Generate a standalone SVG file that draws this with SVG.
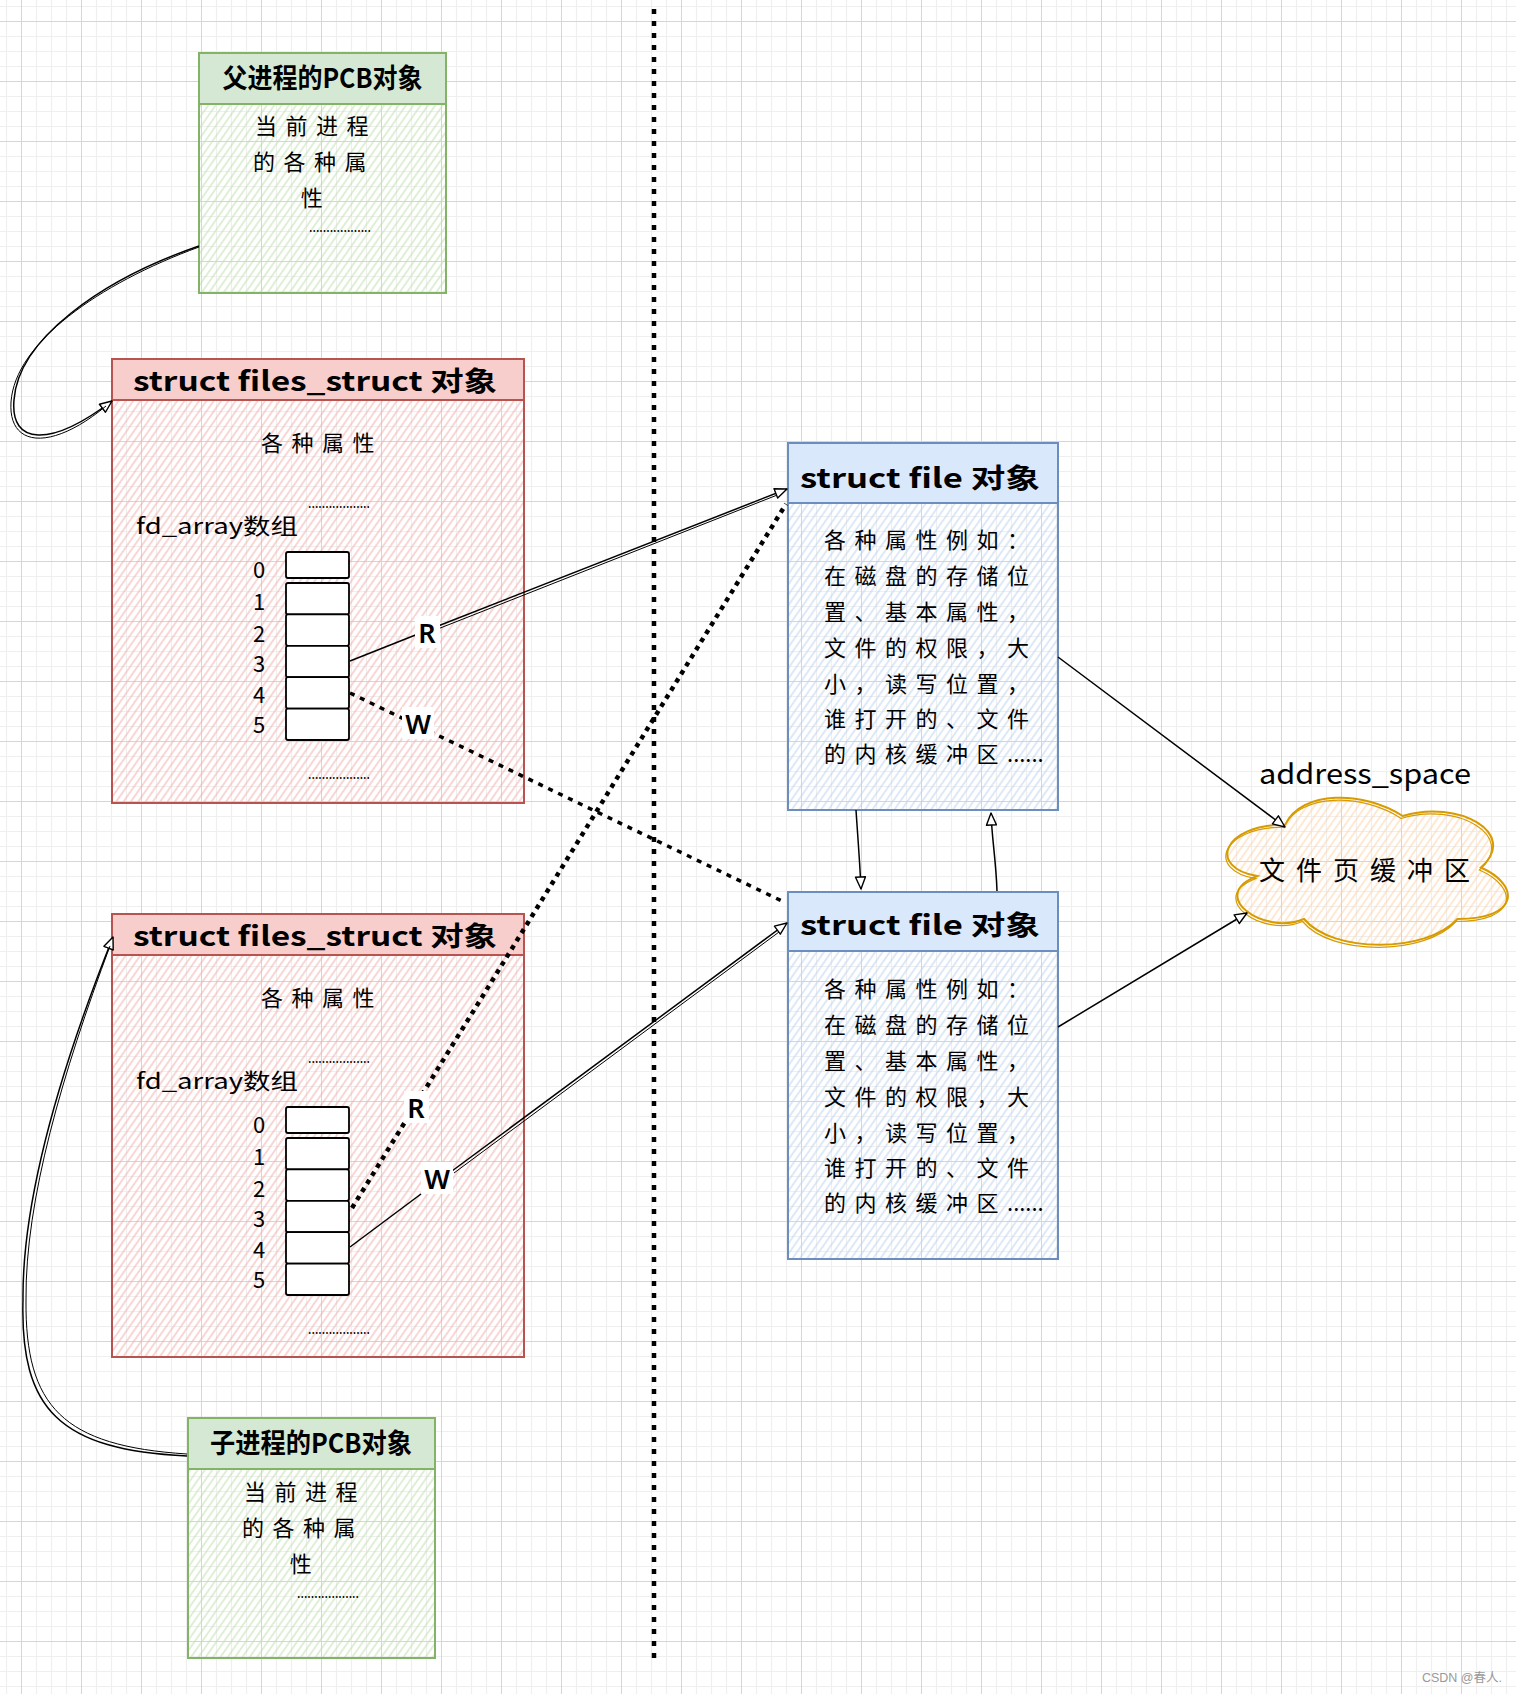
<svg xmlns="http://www.w3.org/2000/svg" width="1516" height="1694" viewBox="0 0 1516 1694">
<defs>
<pattern id="grid" x="21" y="21" width="60" height="60" patternUnits="userSpaceOnUse">
<path d="M15.5,0V60M30.5,0V60M45.5,0V60M0,15.5H60M0,30.5H60M0,45.5H60" stroke="#efefef" stroke-width="1.2" fill="none"/>
<path d="M0.5,0V60M0,0.5H60" stroke="#d6d6d6" stroke-width="1" fill="none"/>
</pattern>
<pattern id="hr" width="6" height="10" patternUnits="userSpaceOnUse" patternTransform="rotate(35)">
<line x1="3" y1="0" x2="3" y2="10" stroke="#f3aeab" stroke-width="1"/>
</pattern>
<pattern id="hg" width="6" height="10" patternUnits="userSpaceOnUse" patternTransform="rotate(35)">
<line x1="3" y1="0" x2="3" y2="10" stroke="#bfe0ad" stroke-width="1"/>
</pattern>
<pattern id="hb" width="6" height="10" patternUnits="userSpaceOnUse" patternTransform="rotate(35)">
<line x1="3" y1="0" x2="3" y2="10" stroke="#bcd2f1" stroke-width="1"/>
</pattern>
<pattern id="ho" width="6" height="10" patternUnits="userSpaceOnUse" patternTransform="rotate(35)">
<line x1="3" y1="0" x2="3" y2="10" stroke="#ffd2a6" stroke-width="1"/>
</pattern>
<marker id="arr" viewBox="0 0 14 12" refX="13" refY="6" markerWidth="14" markerHeight="12" orient="auto" markerUnits="userSpaceOnUse">
<path d="M1,1 L13,6 L1,11 Z" fill="#fff" stroke="#000" stroke-width="1.4" stroke-linejoin="round"/>
</marker>
<style>
.t{font-family:"Noto Sans CJK SC","Noto Sans",sans-serif;fill:#000}
.ttl{font-size:27px;font-weight:700}
.body{font-size:22px;letter-spacing:8.5px}
.num{font-size:22px}
.dots{font-size:14px}
.lbl{font-family:"Noto Sans","Liberation Sans",sans-serif;font-size:27px;font-weight:600}
.ln{fill:none;stroke:#000;stroke-width:1.5}
.ln2{fill:none;stroke:#000;stroke-width:1}
.dot1{fill:none;stroke:#000;stroke-width:3.5;stroke-dasharray:5 6}
.dot2{fill:none;stroke:#000;stroke-width:4.5;stroke-dasharray:4.5 5}
.cell{fill:#fff;stroke:#000;stroke-width:1.8}
.red{stroke:#b85450;stroke-width:2}
.grn{stroke:#82b366;stroke-width:2}
.blu{stroke:#6c8ebf;stroke-width:2}
.bg{fill:#fff}
</style>
</defs>
<rect x="0" y="0" width="1516" height="1694" fill="#fff"/>
<rect x="0" y="0" width="1516" height="1694" fill="url(#grid)"/>

<!-- divider -->
<g id="divider">
<line x1="654" y1="9" x2="654" y2="1659" stroke="#000" stroke-width="4.5" stroke-dasharray="5 7"/>
</g>

<!-- parent PCB -->
<g id="parent-pcb">
<rect x="199" y="53" width="247" height="240" fill="url(#hg)" class="grn"/>
<rect x="199" y="53" width="247" height="51" fill="#d5e8d4" class="grn"/>
<text class="t ttl" x="322.5" y="76" text-anchor="middle" dominant-baseline="central" font-size="25" textLength="200" lengthAdjust="spacingAndGlyphs">父进程的PCB对象</text>
<text class="t body" x="316" y="124" text-anchor="middle" dominant-baseline="central">当前进程</text>
<text class="t body" x="314" y="160" text-anchor="middle" dominant-baseline="central">的各种属</text>
<text class="t body" x="316" y="196" text-anchor="middle" dominant-baseline="central">性</text>
<text class="t dots" x="340" y="226" text-anchor="middle" dominant-baseline="central" textLength="62" lengthAdjust="spacingAndGlyphs">..................</text>
</g>

<!-- files_struct top -->
<g id="files-struct-1">
<rect x="112" y="359" width="412" height="444" fill="url(#hr)" class="red"/>
<rect x="112" y="359" width="412" height="41" fill="#f8cecc" class="red"/>
<text class="t ttl" x="315" y="379" text-anchor="middle" dominant-baseline="central" textLength="364" lengthAdjust="spacingAndGlyphs">struct files_struct 对象</text>
<text class="t body" x="322" y="441" text-anchor="middle" dominant-baseline="central">各种属性</text>
<text class="t dots" x="339" y="502" text-anchor="middle" dominant-baseline="central" textLength="62" lengthAdjust="spacingAndGlyphs">..................</text>
<text class="t" x="136" y="524" font-size="22" dominant-baseline="central" textLength="162" lengthAdjust="spacingAndGlyphs">fd_array数组</text>
<rect class="cell" x="286" y="552" width="63" height="26" rx="2"/>
<rect class="cell" x="286" y="583" width="63" height="31.4" rx="2"/>
<rect class="cell" x="286" y="614.4" width="63" height="31.4" rx="2"/>
<rect class="cell" x="286" y="645.8" width="63" height="31.4" rx="2"/>
<rect class="cell" x="286" y="677.2" width="63" height="31.4" rx="2"/>
<rect class="cell" x="286" y="708.6" width="63" height="31.4" rx="2"/>
<text class="t num" x="259" y="568" text-anchor="middle" dominant-baseline="central">0</text>
<text class="t num" x="259" y="600" text-anchor="middle" dominant-baseline="central">1</text>
<text class="t num" x="259" y="632" text-anchor="middle" dominant-baseline="central">2</text>
<text class="t num" x="259" y="662" text-anchor="middle" dominant-baseline="central">3</text>
<text class="t num" x="259" y="693" text-anchor="middle" dominant-baseline="central">4</text>
<text class="t num" x="259" y="723" text-anchor="middle" dominant-baseline="central">5</text>
<text class="t dots" x="339" y="773" text-anchor="middle" dominant-baseline="central" textLength="62" lengthAdjust="spacingAndGlyphs">..................</text>
</g>

<!-- files_struct bottom -->
<g id="files-struct-2">
<rect x="112" y="914" width="412" height="443" fill="url(#hr)" class="red"/>
<rect x="112" y="914" width="412" height="41" fill="#f8cecc" class="red"/>
<text class="t ttl" x="315" y="934" text-anchor="middle" dominant-baseline="central" textLength="364" lengthAdjust="spacingAndGlyphs">struct files_struct 对象</text>
<text class="t body" x="322" y="996" text-anchor="middle" dominant-baseline="central">各种属性</text>
<text class="t dots" x="339" y="1057" text-anchor="middle" dominant-baseline="central" textLength="62" lengthAdjust="spacingAndGlyphs">..................</text>
<text class="t" x="136" y="1079" font-size="22" dominant-baseline="central" textLength="162" lengthAdjust="spacingAndGlyphs">fd_array数组</text>
<rect class="cell" x="286" y="1107" width="63" height="26" rx="2"/>
<rect class="cell" x="286" y="1138" width="63" height="31.4" rx="2"/>
<rect class="cell" x="286" y="1169.4" width="63" height="31.4" rx="2"/>
<rect class="cell" x="286" y="1200.8" width="63" height="31.4" rx="2"/>
<rect class="cell" x="286" y="1232.2" width="63" height="31.4" rx="2"/>
<rect class="cell" x="286" y="1263.6" width="63" height="31.4" rx="2"/>
<text class="t num" x="259" y="1123" text-anchor="middle" dominant-baseline="central">0</text>
<text class="t num" x="259" y="1155" text-anchor="middle" dominant-baseline="central">1</text>
<text class="t num" x="259" y="1187" text-anchor="middle" dominant-baseline="central">2</text>
<text class="t num" x="259" y="1217" text-anchor="middle" dominant-baseline="central">3</text>
<text class="t num" x="259" y="1248" text-anchor="middle" dominant-baseline="central">4</text>
<text class="t num" x="259" y="1278" text-anchor="middle" dominant-baseline="central">5</text>
<text class="t dots" x="339" y="1328" text-anchor="middle" dominant-baseline="central" textLength="62" lengthAdjust="spacingAndGlyphs">..................</text>
</g>

<!-- child PCB -->
<g id="child-pcb">
<rect x="188" y="1418" width="247" height="240" fill="url(#hg)" class="grn"/>
<rect x="188" y="1418" width="247" height="51" fill="#d5e8d4" class="grn"/>
<text class="t ttl" x="311" y="1441" text-anchor="middle" dominant-baseline="central" font-size="25" textLength="202" lengthAdjust="spacingAndGlyphs">子进程的PCB对象</text>
<text class="t body" x="305" y="1490" text-anchor="middle" dominant-baseline="central">当前进程</text>
<text class="t body" x="303" y="1526" text-anchor="middle" dominant-baseline="central">的各种属</text>
<text class="t body" x="305" y="1562" text-anchor="middle" dominant-baseline="central">性</text>
<text class="t dots" x="328" y="1592" text-anchor="middle" dominant-baseline="central" textLength="62" lengthAdjust="spacingAndGlyphs">..................</text>
</g>

<!-- struct file 1 -->
<g id="struct-file-1">
<rect x="788" y="443" width="270" height="367" fill="url(#hb)" class="blu"/>
<rect x="788" y="443" width="270" height="60" fill="#dae8fc" class="blu"/>
<text class="t ttl" x="920" y="476" text-anchor="middle" dominant-baseline="central" textLength="240" lengthAdjust="spacingAndGlyphs">struct file 对象</text>
<text class="t body" x="824" y="538" dominant-baseline="central">各种属性例如：</text>
<text class="t body" x="824" y="574" dominant-baseline="central">在磁盘的存储位</text>
<text class="t body" x="824" y="610" dominant-baseline="central">置、基本属性，</text>
<text class="t body" x="824" y="646" dominant-baseline="central">文件的权限，大</text>
<text class="t body" x="824" y="682" dominant-baseline="central">小，读写位置，</text>
<text class="t body" x="824" y="717" dominant-baseline="central">谁打开的、文件</text>
<text class="t body" x="824" y="752" dominant-baseline="central">的内核缓冲区<tspan letter-spacing="0">......</tspan></text>
</g>

<!-- struct file 2 -->
<g id="struct-file-2">
<rect x="788" y="892" width="270" height="367" fill="url(#hb)" class="blu"/>
<rect x="788" y="892" width="270" height="59" fill="#dae8fc" class="blu"/>
<text class="t ttl" x="920" y="923" text-anchor="middle" dominant-baseline="central" textLength="240" lengthAdjust="spacingAndGlyphs">struct file 对象</text>
<text class="t body" x="824" y="987" dominant-baseline="central">各种属性例如：</text>
<text class="t body" x="824" y="1023" dominant-baseline="central">在磁盘的存储位</text>
<text class="t body" x="824" y="1059" dominant-baseline="central">置、基本属性，</text>
<text class="t body" x="824" y="1095" dominant-baseline="central">文件的权限，大</text>
<text class="t body" x="824" y="1131" dominant-baseline="central">小，读写位置，</text>
<text class="t body" x="824" y="1166" dominant-baseline="central">谁打开的、文件</text>
<text class="t body" x="824" y="1201" dominant-baseline="central">的内核缓冲区<tspan letter-spacing="0">......</tspan></text>
</g>

<!-- cloud -->
<g id="page-cache">
<path d="M1285.3,824.6 C1222.7,824.6 1207,867.5 1257.1,876.1 C1207,895 1263.4,936.2 1304.1,919 C1332.3,953.4 1426.2,953.4 1457.5,919 C1520.1,919 1520.1,884.7 1480.9,867.5 C1520.1,833.2 1457.5,798.8 1402.7,816 C1363.6,790.3 1301,790.3 1285.3,824.6 Z" fill="url(#ho)" stroke="#d79b00" stroke-width="2"/>
<path d="M1285.3,824.6 C1222.7,824.6 1207,867.5 1257.1,876.1 C1207,895 1263.4,936.2 1304.1,919 C1332.3,953.4 1426.2,953.4 1457.5,919 C1520.1,919 1520.1,884.7 1480.9,867.5 C1520.1,833.2 1457.5,798.8 1402.7,816 C1363.6,790.3 1301,790.3 1285.3,824.6 Z" fill="none" stroke="#d79b00" stroke-width="1.2" transform="translate(-1.5,2.5)"/>
<text class="t" x="1370" y="868" font-size="26" letter-spacing="11" text-anchor="middle" dominant-baseline="central">文件页缓冲区</text>
<text class="t" x="1365" y="772" font-size="28" text-anchor="middle" dominant-baseline="central" font-family="Noto Sans, sans-serif" textLength="212" lengthAdjust="spacingAndGlyphs">address_space</text>
</g>

<!-- connectors -->
<g id="connectors">
<path class="ln" d="M199,246 C100,280 18,340 14,400 C10,445 50,448 112,401" marker-end="url(#arr)"/>
<path class="ln2" d="M199,247 C98,284 15,343 11,402 C8,448 52,451 106,406"/>
<path class="ln" d="M187,1456 C60,1450 20,1410 23,1300 C22,1200 60,1070 113,937" marker-end="url(#arr)"/>
<path class="ln2" d="M187,1454 C63,1446 25,1407 26,1300 C25,1200 63,1072 110,946"/>

<path class="ln" d="M350,661 L418,634"/>
<path class="ln" d="M438,626 L787,489" marker-end="url(#arr)"/>
<path class="ln2" d="M439,628.5 L776,495.5"/>
<path class="dot1" d="M350,693 L786,903"/>

<path class="dot2" d="M352,1208 L786,504"/>
<path class="ln" d="M350,1247 L421,1194"/>
<path class="ln" d="M452,1171 L787,923" marker-end="url(#arr)"/>
<path class="ln2" d="M454,1173 L779,932"/>

<path class="ln" d="M1058,657 L1285,827" marker-end="url(#arr)"/>
<path class="ln" d="M1058,1027 L1247,913" marker-end="url(#arr)"/>
<path class="ln" d="M856,810 C858,840 860,865 861,889" marker-end="url(#arr)"/>
<path class="ln" d="M997,891 C996,860 992,840 991,813" marker-end="url(#arr)"/>

<rect class="bg" x="415" y="616" width="25" height="32"/>
<text class="lbl" x="427" y="632" text-anchor="middle" dominant-baseline="central">R</text>
<rect class="bg" x="402" y="707" width="32" height="32"/>
<text class="lbl" x="418" y="723" text-anchor="middle" dominant-baseline="central">W</text>
<rect class="bg" x="404" y="1091" width="25" height="32"/>
<text class="lbl" x="416" y="1107" text-anchor="middle" dominant-baseline="central">R</text>
<rect class="bg" x="421" y="1162" width="32" height="32"/>
<text class="lbl" x="437" y="1178" text-anchor="middle" dominant-baseline="central">W</text>
</g>

<text x="1502" y="1678" font-family="Liberation Sans, Noto Sans CJK SC, sans-serif" font-size="12.5" fill="#999" text-anchor="end" dominant-baseline="central">CSDN @春人.</text>
</svg>
